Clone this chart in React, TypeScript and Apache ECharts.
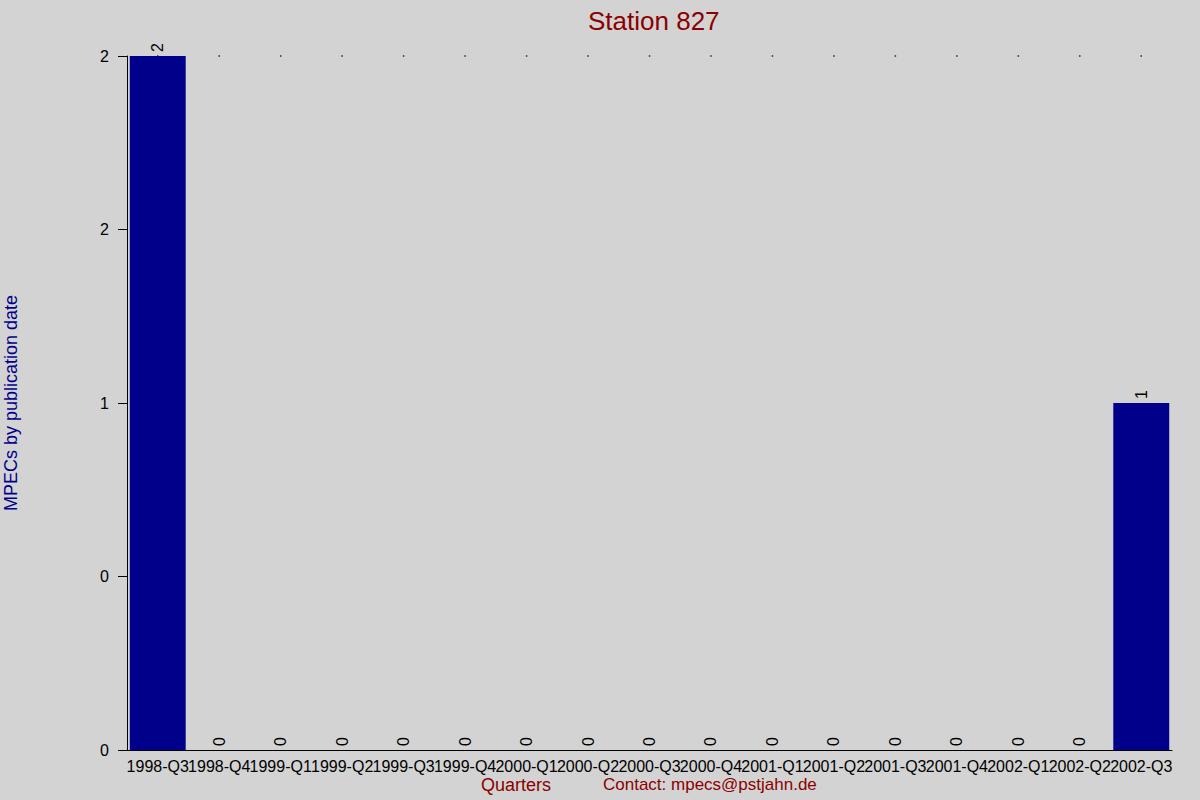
import React, { useEffect, useRef } from 'react';
import * as echarts from 'echarts';

const quarters = [
  '1998-Q3', '1998-Q4', '1999-Q1', '1999-Q2', '1999-Q3', '1999-Q4',
  '2000-Q1', '2000-Q2', '2000-Q3', '2000-Q4', '2001-Q1', '2001-Q2',
  '2001-Q3', '2001-Q4', '2002-Q1', '2002-Q2', '2002-Q3'
];
const mpecCounts = [2, 0, 0, 0, 0, 0, 0, 0, 0, 0, 0, 0, 0, 0, 0, 0, 1];
const yTickLabels = ['0', '0', '1', '2', '2'];
const yMax = 2;
const yStep = 0.5;

const FONT = 'Liberation Sans, Arial, sans-serif';
const DARK_RED = '#8B0000';

const App: React.FC = () => {
  const chartRef = useRef<HTMLDivElement>(null);

  useEffect(() => {
    document.body.style.margin = '0';
    if (!chartRef.current) return;
    const chart = echarts.init(chartRef.current, null, { renderer: 'svg' });

    const option: echarts.EChartsOption = {
      animation: false,
      backgroundColor: '#D3D3D3',
      textStyle: { fontFamily: FONT },
      title: {
        text: 'Station 827',
        left: 583,
        top: 3,
        textStyle: { color: DARK_RED, fontSize: 26, fontWeight: 'normal', fontFamily: FONT }
      },
      grid: { left: 127, right: 28, top: 56, bottom: 50, outerBoundsMode: 'none' } as any,
      xAxis: {
        type: 'category',
        data: quarters,
        axisLine: { lineStyle: { color: '#000', width: 1 } },
        axisTick: { show: false },
        axisLabel: { interval: 0, color: '#000', fontSize: 16, margin: 8, fontFamily: FONT }
      },
      yAxis: {
        type: 'value',
        min: 0,
        max: yMax,
        interval: yStep,
        name: 'MPECs by publication date',
        nameLocation: 'middle',
        nameGap: 107,
        nameTextStyle: { color: '#00008B', fontSize: 18, fontFamily: FONT },
        splitLine: { show: false },
        axisLine: { show: true, lineStyle: { color: '#000', width: 1 } },
        axisTick: { show: true, length: 9, lineStyle: { color: '#000' } },
        axisLabel: {
          color: '#000',
          fontSize: 16,
          margin: 18,
          fontFamily: FONT,
          formatter: (v: number) => yTickLabels[Math.round(v / yStep)] ?? ''
        }
      },
      series: [
        {
          type: 'bar',
          data: mpecCounts,
          barCategoryGap: '9%',
          itemStyle: { color: '#00008B' },
          label: {
            show: true,
            position: 'top',
            rotate: 90,
            distance: 4,
            color: '#000',
            fontSize: 16,
            fontFamily: FONT,
            align: 'left',
            verticalAlign: 'middle'
          }
        },
        {
          type: 'scatter',
          data: quarters.map(() => yMax),
          symbol: 'rect',
          symbolSize: 1.5,
          itemStyle: { color: '#000' },
          z: 1,
          silent: true
        }
      ],
      graphic: [
        {
          type: 'text',
          left: 481,
          top: 776,
          style: { text: 'Quarters', fill: DARK_RED, fontSize: 18, fontFamily: FONT }
        },
        {
          type: 'text',
          left: 603,
          top: 776,
          style: { text: 'Contact: mpecs@pstjahn.de', fill: DARK_RED, fontSize: 17, fontFamily: FONT }
        }
      ]
    };

    chart.setOption(option);
    return () => chart.dispose();
  }, []);

  return <div ref={chartRef} style={{ width: 1200, height: 800 }} />;
};

export default App;
